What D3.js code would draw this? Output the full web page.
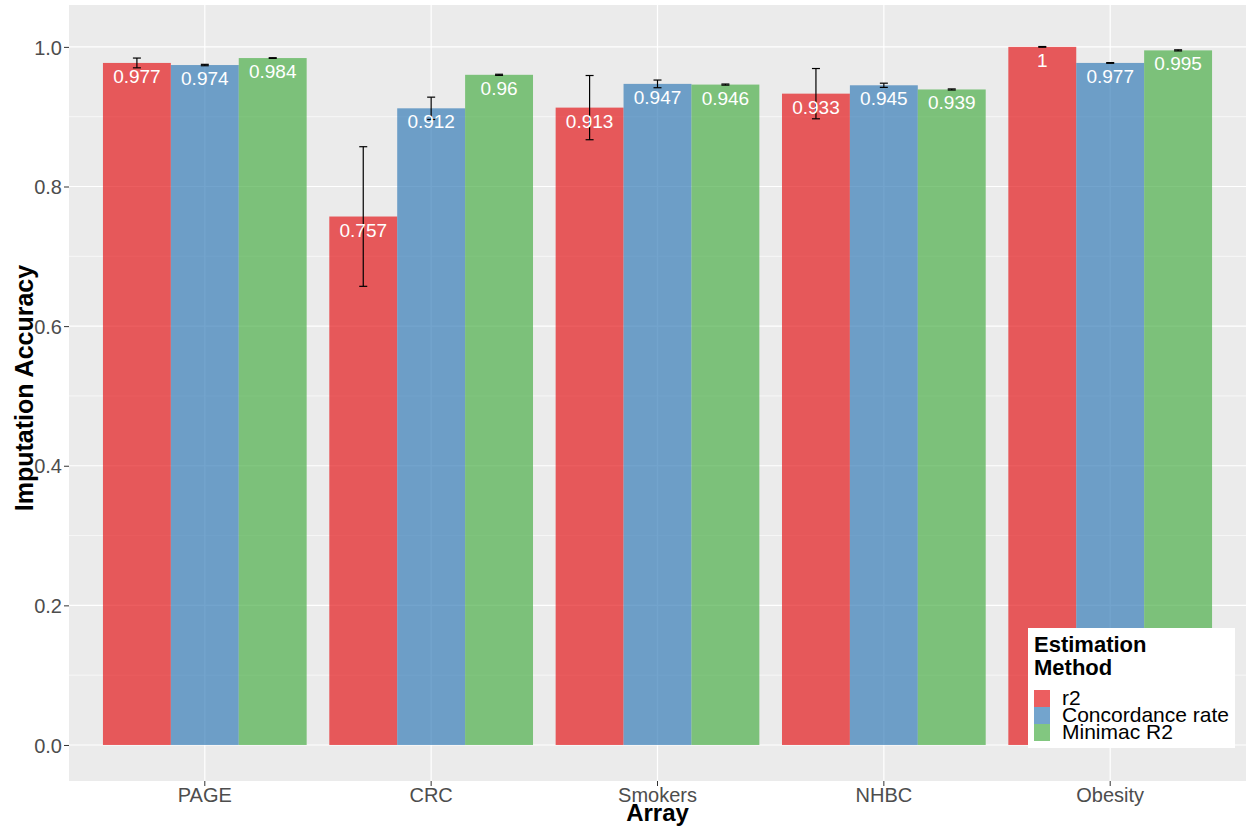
<!DOCTYPE html>
<html lang="en">
<head>
  <meta charset="UTF-8">
  <title>Imputation Accuracy by Array</title>
  <script src="https://d3js.org/d3.v7.min.js"></script>
  <style>
    body {
      margin: 0;
      padding: 0;
      background: #ffffff;
      font-family: 'Liberation Sans', Arial, sans-serif;
    }
    .tick text {
      font-size: 20px;
      fill: #4D4D4D;
      font-family: 'Liberation Sans', Arial, sans-serif;
    }
    .tick line {
      stroke: #333333;
    }
    .axis-title {
      font-weight: bold;
      fill: #000;
    }
    .bar-label {
      font-size: 19px;
      fill: #ffffff;
      text-anchor: middle;
    }
  </style>
</head>
<body>
  <div id="chart"></div>
  <script>
    // data
    const arrays = ["PAGE", "CRC", "Smokers", "NHBC", "Obesity"];
    const methods = ["r2", "Concordance rate", "Minimac R2"];
    const r2Values = [0.977, 0.757, 0.913, 0.933, 1];
    const concordanceValues = [0.974, 0.912, 0.947, 0.945, 0.977];
    const minimacValues = [0.984, 0.96, 0.946, 0.939, 0.995];
    const r2Err = [0.007, 0.1, 0.046, 0.036, 0.0005];
    const concordanceErr = [0.001, 0.016, 0.0055, 0.003, 0.0005];
    const minimacErr = [0.0005, 0.0008, 0.0008, 0.0008, 0.0008];
    const yTicks = [0, 0.2, 0.4, 0.6, 0.8, 1.0];
    const yMinorTicks = [0.1, 0.3, 0.5, 0.7, 0.9];
    const colors = ["#E41A1C", "#377EB8", "#4DAF4A"];

    const W = 1248, H = 830;
    const panel = { left: 69, right: 1246, top: 5, bottom: 781 };

    const svg = d3.select("#chart").append("svg")
      .attr("width", W)
      .attr("height", H);

    const valueSets = [r2Values, concordanceValues, minimacValues];
    const errSets = [r2Err, concordanceErr, minimacErr];
    const rows = [];
    arrays.forEach((a, i) => {
      methods.forEach((m, j) => {
        rows.push({ array: a, method: m, value: valueSets[j][i], err: errSets[j][i] });
      });
    });

    const x = d3.scaleBand()
      .domain(arrays)
      .range([panel.left, panel.right])
      .paddingInner(0.1)
      .paddingOuter(0.15);

    const xSub = d3.scaleBand()
      .domain(methods)
      .range([0, x.bandwidth()])
      .padding(0);

    const y = d3.scaleLinear()
      .domain([-0.0516, 1.060])
      .range([panel.bottom, panel.top]);

    const color = d3.scaleOrdinal().domain(methods).range(colors);

    // panel background
    svg.append("rect")
      .attr("x", panel.left)
      .attr("y", panel.top)
      .attr("width", panel.right - panel.left)
      .attr("height", panel.bottom - panel.top)
      .attr("fill", "#EBEBEB");

    // grid lines
    svg.append("g").selectAll("line.minor")
      .data(yMinorTicks)
      .join("line")
      .attr("x1", panel.left).attr("x2", panel.right)
      .attr("y1", d => y(d)).attr("y2", d => y(d))
      .attr("stroke", "#fff").attr("stroke-width", 0.6);

    svg.append("g").selectAll("line.major")
      .data(yTicks)
      .join("line")
      .attr("x1", panel.left).attr("x2", panel.right)
      .attr("y1", d => y(d)).attr("y2", d => y(d))
      .attr("stroke", "#fff").attr("stroke-width", 1.2);

    svg.append("g").selectAll("line.vmajor")
      .data(arrays)
      .join("line")
      .attr("x1", d => x(d) + x.bandwidth() / 2).attr("x2", d => x(d) + x.bandwidth() / 2)
      .attr("y1", panel.top).attr("y2", panel.bottom)
      .attr("stroke", "#fff").attr("stroke-width", 1.2);

    // bars
    const barX = d => x(d.array) + xSub(d.method);
    svg.append("g").selectAll("rect")
      .data(rows)
      .join("rect")
      .attr("x", barX)
      .attr("y", d => y(d.value))
      .attr("width", xSub.bandwidth())
      .attr("height", d => y(0) - y(d.value))
      .attr("fill", d => color(d.method))
      .attr("fill-opacity", 0.7);

    // error bars
    const capHalf = 4;
    const eb = svg.append("g")
      .attr("stroke", "#000")
      .attr("stroke-width", 1.2);
    rows.forEach(d => {
      const cx = barX(d) + xSub.bandwidth() / 2;
      const hi = y(d.value + d.err), lo = y(d.value - d.err);
      eb.append("line").attr("x1", cx).attr("x2", cx).attr("y1", hi).attr("y2", lo);
      eb.append("line").attr("x1", cx - capHalf).attr("x2", cx + capHalf).attr("y1", hi).attr("y2", hi);
      eb.append("line").attr("x1", cx - capHalf).attr("x2", cx + capHalf).attr("y1", lo).attr("y2", lo);
    });

    // value labels
    svg.append("g").selectAll("text")
      .data(rows)
      .join("text")
      .attr("class", "bar-label")
      .attr("x", d => barX(d) + xSub.bandwidth() / 2)
      .attr("y", d => y(d.value) + 20)
      .text(d => d3.format("")(d.value));

    // axes
    const yAxis = svg.append("g")
      .attr("transform", `translate(${panel.left},0)`)
      .call(d3.axisLeft(y).tickValues(yTicks).tickFormat(d3.format(".1f")).tickSize(5).tickPadding(2));
    yAxis.select(".domain").remove();
    yAxis.selectAll(".tick text").attr("dy", "0.36em");

    const xAxis = svg.append("g")
      .attr("transform", `translate(0,${panel.bottom})`)
      .call(d3.axisBottom(x).tickSize(5).tickPadding(2));
    xAxis.select(".domain").remove();

    // axis titles
    svg.append("text")
      .attr("class", "axis-title")
      .attr("x", (panel.left + panel.right) / 2)
      .attr("y", 821)
      .attr("font-size", 24)
      .attr("text-anchor", "middle")
      .text("Array");

    svg.append("text")
      .attr("class", "axis-title")
      .attr("font-size", 25)
      .attr("transform", `translate(33,388) rotate(-90)`)
      .attr("text-anchor", "middle")
      .text("Imputation Accuracy");

    // legend
    const legend = svg.append("g").attr("transform", "translate(1028,628)");
    legend.append("rect")
      .attr("width", 207).attr("height", 120)
      .attr("fill", "#fff");
    legend.append("text")
      .attr("x", 6).attr("y", 24)
      .attr("font-size", 22).attr("font-weight", "bold")
      .text("Estimation");
    legend.append("text")
      .attr("x", 6).attr("y", 47)
      .attr("font-size", 22).attr("font-weight", "bold")
      .text("Method");
    methods.forEach((m, i) => {
      legend.append("rect")
        .attr("x", 6).attr("y", 62 + i * 17)
        .attr("width", 16).attr("height", 17)
        .attr("fill", color(m)).attr("fill-opacity", 0.7);
      legend.append("text")
        .attr("x", 34).attr("y", 77 + i * 17)
        .attr("font-size", 21)
        .attr("fill", "#000")
        .text(m);
    });
  </script>
</body>
</html>
